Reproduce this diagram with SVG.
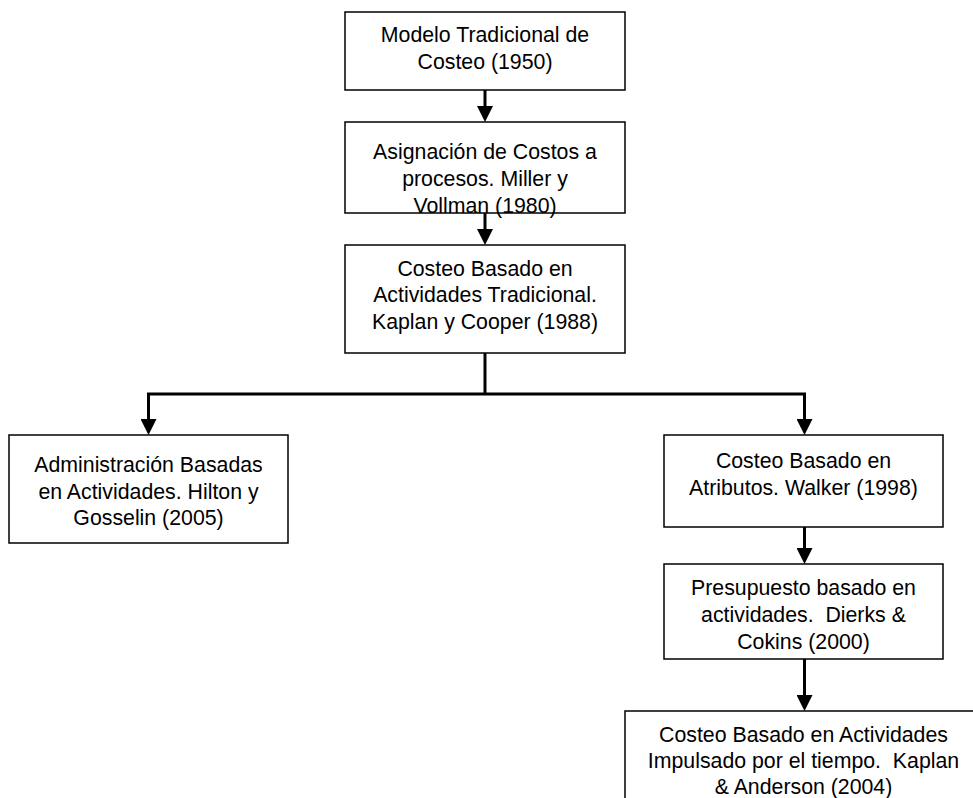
<svg xmlns="http://www.w3.org/2000/svg" width="973" height="798" viewBox="0 0 973 798">
  <style>
    .box { fill: #ffffff; stroke: #000000; stroke-width: 1.5; }
    .lbl { font-family: "Liberation Sans", Arial, sans-serif; font-size: 21.3px; fill: #000000; text-anchor: middle; }
    .con { fill: none; stroke: #000000; stroke-width: 3; }
  </style>
  <defs>
    <marker id="arr" markerUnits="userSpaceOnUse" viewBox="0 0 16 16" markerWidth="16" markerHeight="16" refX="0" refY="8" orient="auto">
      <path d="M0,0 L16,8 L0,16 Z" fill="#000000"/>
    </marker>
  </defs>
  <rect width="973" height="798" fill="#ffffff"/>

  <g id="connectors">
    <line class="con" x1="485" y1="90" x2="485" y2="106" marker-end="url(#arr)"/>
    <line class="con" x1="485" y1="213" x2="485" y2="229" marker-end="url(#arr)"/>
    <line class="con" x1="485" y1="353" x2="485" y2="394"/>
    <line class="con" x1="147" y1="394" x2="806" y2="394"/>
    <line class="con" x1="148.5" y1="394" x2="148.5" y2="419" marker-end="url(#arr)"/>
    <line class="con" x1="804.5" y1="394" x2="804.5" y2="419" marker-end="url(#arr)"/>
    <line class="con" x1="804.5" y1="527" x2="804.5" y2="548" marker-end="url(#arr)"/>
    <line class="con" x1="804.5" y1="659" x2="804.5" y2="695" marker-end="url(#arr)"/>
  </g>

  <g id="n1">
    <rect class="box" x="345" y="12" width="280" height="78"/>
    <text class="lbl" x="485" y="42">Modelo Tradicional de</text>
    <text class="lbl" x="485" y="68.5">Costeo (1950)</text>
  </g>

  <g id="n2">
    <rect class="box" x="345" y="122" width="280" height="91"/>
    <text class="lbl" x="485" y="159">Asignación de Costos a</text>
    <text class="lbl" x="485" y="186">procesos. Miller y</text>
    <text class="lbl" x="485" y="213">Vollman (1980)</text>
  </g>

  <g id="n3">
    <rect class="box" x="345" y="245" width="280" height="108"/>
    <text class="lbl" x="485" y="276">Costeo Basado en</text>
    <text class="lbl" x="485" y="302">Actividades Tradicional.</text>
    <text class="lbl" x="485" y="329">Kaplan y Cooper (1988)</text>
  </g>

  <g id="n4">
    <rect class="box" x="9" y="435" width="279" height="108"/>
    <text class="lbl" x="148.5" y="472">Administración Basadas</text>
    <text class="lbl" x="148.5" y="498.5">en Actividades. Hilton y</text>
    <text class="lbl" x="148.5" y="525">Gosselin (2005)</text>
  </g>

  <g id="n5">
    <rect class="box" x="664" y="435" width="279" height="92"/>
    <text class="lbl" x="803.5" y="467.5">Costeo Basado en</text>
    <text class="lbl" x="803.5" y="494.5">Atributos. Walker (1998)</text>
  </g>

  <g id="n6">
    <rect class="box" x="664" y="564" width="279" height="95"/>
    <text class="lbl" x="803.5" y="594.5">Presupuesto basado en</text>
    <text class="lbl" x="803.5" y="621.5" xml:space="preserve">actividades.  Dierks &amp;</text>
    <text class="lbl" x="803.5" y="648.5">Cokins (2000)</text>
  </g>

  <g id="n7">
    <rect class="box" x="625" y="711" width="358" height="100"/>
    <text class="lbl" x="803.5" y="741.5">Costeo Basado en Actividades</text>
    <text class="lbl" x="803.5" y="768" xml:space="preserve">Impulsado por el tiempo.  Kaplan</text>
    <text class="lbl" x="803.5" y="794">&amp; Anderson (2004)</text>
  </g>
</svg>
